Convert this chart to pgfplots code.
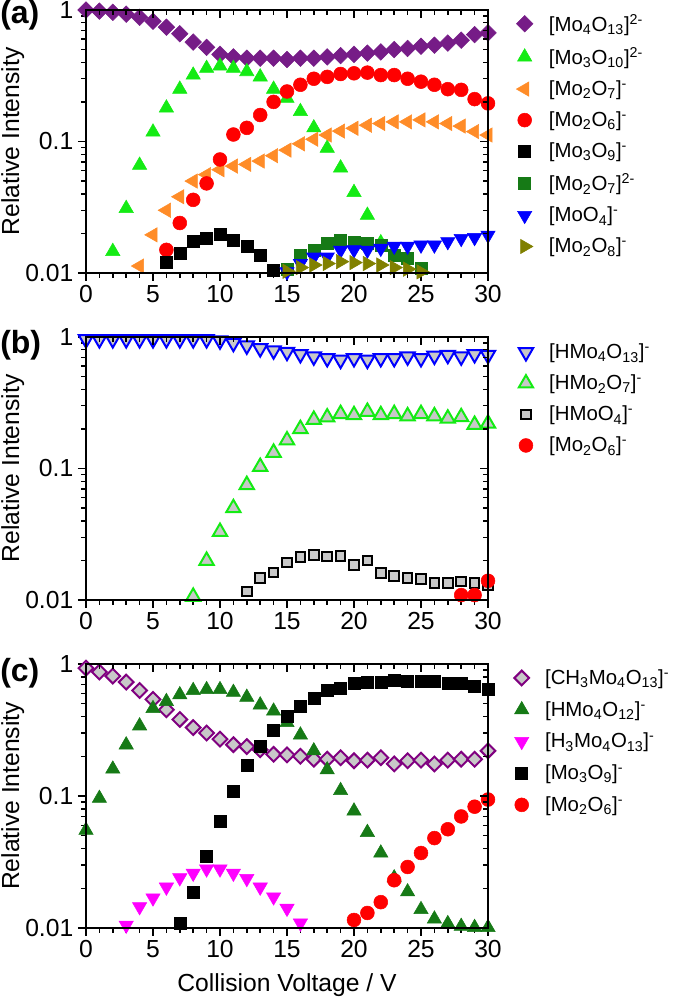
\documentclass[border=0pt]{standalone}
\usepackage{pgfplots}
\pgfplotsset{compat=1.18}
\usepackage{fontspec}
\setmainfont{Liberation Sans}
\definecolor{cPurple}{RGB}{118,28,135}
\definecolor{cLime}{RGB}{20,235,20}
\definecolor{cOrange}{RGB}{255,140,40}
\definecolor{cRed}{RGB}{255,0,0}
\definecolor{cDkGreen}{RGB}{22,122,22}
\definecolor{cBlue}{RGB}{0,0,255}
\definecolor{cOlive}{RGB}{128,128,0}
\definecolor{cMagenta}{RGB}{255,0,255}
\definecolor{cGray}{RGB}{200,200,200}
\definecolor{cPurpleC}{RGB}{128,0,128}
\newcommand{\sub}[1]{\textsubscript{#1}}
\newcommand{\sups}[1]{\textsuperscript{#1}}
\begin{document}
\begin{tikzpicture}
\useasboundingbox (0,0) rectangle (504pt,750pt);
% ---------------- (a)
\begin{axis}[at={(64.5pt,545.25pt)}, anchor=south west,
  scale only axis, width=301.5pt, height=197.25pt,
  ymode=log, xmin=0, xmax=30, ymin=0.01, ymax=1,
  xtick={0,5,...,30}, minor x tick num=4,
  ytick={0.01,0.1,1}, yticklabels={0.01,0.1,1},
  minor ytick={0.02,0.03,0.04,0.05,0.06,0.07,0.08,0.09,0.2,0.3,0.4,0.5,0.6,0.7,0.8,0.9},
  xticklabels={0,5,10,15,20,25,30},
  axis line style={line width=1.3pt},
  major tick style={black, line width=1.1pt}, minor tick style={black, line width=1.1pt},
  major tick length=6pt, minor tick length=3.5pt,
  tick align=outside, xtick pos=left, ytick pos=left,
  tick label style={font=\fontsize{18.5}{20}\selectfont},
  ylabel={Relative Intensity},
  ylabel style={at={(axis description cs:-0.182,0.5)}, anchor=center, font=\fontsize{18.5}{20}\selectfont},
  legend cell align=left,
  legend style={draw=none, fill=none, row sep=6.7pt, font=\fontsize{15.3}{17}\selectfont,
    /tikz/every odd column/.append style={column sep=10pt},
    at={(1.06,1.005)}, anchor=north west}]
\addplot[only marks, mark=square*, mark size=4.4pt, mark options={rotate=45, fill=cPurple, draw=cPurple}] coordinates {
(0,1.0)(1,0.98)(2,0.96)(3,0.93)(4,0.88)(5,0.82)(6,0.74)(7,0.66)(8,0.57)(9,0.52)(10,0.46)(11,0.44)(12,0.43)(13,0.43)(14,0.43)(15,0.42)(16,0.43)(17,0.43)(18,0.44)(19,0.45)(20,0.46)(21,0.47)(22,0.48)(23,0.50)(24,0.51)(25,0.53)(26,0.54)(27,0.56)(28,0.59)(29,0.65)(30,0.67)};
\addlegendentry{[Mo\sub{4}O\sub{13}]\sups{2-}}
\addplot[only marks, mark=triangle*, mark size=6.2pt, mark options={fill=cLime, draw=cLime}] coordinates {
(2,0.0146)(3,0.031)(4,0.066)(5,0.118)(6,0.18)(7,0.25)(8,0.32)(9,0.36)(10,0.375)(11,0.36)(12,0.34)(13,0.31)(14,0.25)(15,0.213)(16,0.169)(17,0.127)(18,0.089)(19,0.063)(20,0.041)(21,0.0275)(22,0.017)};
\addlegendentry{[Mo\sub{3}O\sub{10}]\sups{2-}}
\addplot[only marks, mark=triangle*, mark size=6.2pt, mark options={rotate=90, fill=cOrange, draw=cOrange}] coordinates {
(4,0.0113)(5,0.0195)(6,0.030)(7,0.038)(8,0.050)(9,0.056)(10,0.061)(11,0.065)(12,0.067)(13,0.071)(14,0.078)(15,0.086)(16,0.096)(17,0.104)(18,0.112)(19,0.12)(20,0.126)(21,0.133)(22,0.137)(23,0.141)(24,0.141)(25,0.146)(26,0.141)(27,0.137)(28,0.131)(29,0.119)(30,0.112)};
\addlegendentry{[Mo\sub{2}O\sub{7}]\sups{-}}
\addplot[only marks, mark=*, mark size=5.2pt, mark options={fill=cRed, draw=cRed}] coordinates {
(6,0.015)(7,0.024)(8,0.036)(9,0.048)(10,0.073)(11,0.113)(12,0.127)(13,0.159)(14,0.20)(15,0.24)(16,0.27)(17,0.30)(18,0.31)(19,0.326)(20,0.33)(21,0.334)(22,0.32)(23,0.32)(24,0.30)(25,0.285)(26,0.27)(27,0.25)(28,0.247)(29,0.21)(30,0.195)};
\addlegendentry{[Mo\sub{2}O\sub{6}]\sups{-}}
\addplot[only marks, mark=square*, mark size=4.5pt, mark options={fill=black, draw=black}] coordinates {
(6,0.012)(7,0.0141)(8,0.0173)(9,0.0183)(10,0.0198)(11,0.0178)(12,0.016)(13,0.0137)(14,0.0104)};
\addlegendentry{[Mo\sub{3}O\sub{9}]\sups{-}}
\addplot[only marks, mark=square*, mark size=4.5pt, mark options={fill=cDkGreen, draw=cDkGreen}] coordinates {
(15,0.0106)(16,0.0137)(17,0.0148)(18,0.0168)(19,0.0178)(20,0.017)(21,0.0167)(22,0.0163)(23,0.0137)(24,0.0129)(25,0.0108)};
\addlegendentry{[Mo\sub{2}O\sub{7}]\sups{2-}}
\addplot[only marks, mark=triangle*, mark size=6.2pt, mark options={rotate=180, fill=cBlue, draw=cBlue}] coordinates {
(15,0.0102)(16,0.0118)(17,0.0132)(18,0.0132)(19,0.0149)(20,0.015)(21,0.0149)(22,0.0154)(23,0.016)(24,0.016)(25,0.0163)(26,0.0163)(27,0.0173)(28,0.0183)(29,0.0186)(30,0.0194)};
\addlegendentry{[MoO\sub{4}]\sups{-}}
\addplot[only marks, mark=triangle*, mark size=6.2pt, mark options={rotate=-90, fill=cOlive, draw=cOlive}] coordinates {
(15,0.0103)(16,0.011)(17,0.0115)(18,0.0118)(19,0.0122)(20,0.012)(21,0.0118)(22,0.0115)(23,0.011)(24,0.0107)(25,0.0102)(26,0.0099)};
\addlegendentry{[Mo\sub{2}O\sub{8}]\sups{-}}
\end{axis}
\begin{axis}[at={(64.5pt,545.25pt)}, anchor=south west,
  scale only axis, width=301.5pt, height=197.25pt,
  ymode=log, xmin=0, xmax=30, ymin=0.01, ymax=1,
  xtick={0,5,...,30}, minor x tick num=4, ytick={0.01,0.1,1},
  minor ytick={0.02,0.03,0.04,0.05,0.06,0.07,0.08,0.09,0.2,0.3,0.4,0.5,0.6,0.7,0.8,0.9},
  xticklabels={}, yticklabels={},
  axis line style={line width=1.3pt},
  major tick style={black, line width=1.1pt}, minor tick style={black, line width=1.1pt},
  major tick length=6pt, minor tick length=3.5pt,
  tick align=inside, xtick pos=right, ytick pos=right]
\end{axis}
% ---------------- (b)
\begin{axis}[at={(64.5pt,300pt)}, anchor=south west,
  scale only axis, width=301.5pt, height=197.25pt,
  ymode=log, xmin=0, xmax=30, ymin=0.01, ymax=1,
  xtick={0,5,...,30}, minor x tick num=4,
  ytick={0.01,0.1,1}, yticklabels={0.01,0.1,1},
  minor ytick={0.02,0.03,0.04,0.05,0.06,0.07,0.08,0.09,0.2,0.3,0.4,0.5,0.6,0.7,0.8,0.9},
  xticklabels={0,5,10,15,20,25,30},
  axis line style={line width=1.3pt},
  major tick style={black, line width=1.1pt}, minor tick style={black, line width=1.1pt},
  major tick length=6pt, minor tick length=3.5pt,
  tick align=outside, xtick pos=left, ytick pos=left,
  tick label style={font=\fontsize{18.5}{20}\selectfont},
  ylabel={Relative Intensity},
  ylabel style={at={(axis description cs:-0.182,0.5)}, anchor=center, font=\fontsize{18.5}{20}\selectfont},
  legend cell align=left,
  legend style={draw=none, fill=none, row sep=6.7pt, font=\fontsize{15.3}{17}\selectfont,
    /tikz/every odd column/.append style={column sep=10pt},
    at={(1.066,0.995)}, anchor=north west}]
\addplot[only marks, mark=triangle*, mark size=6.2pt, mark options={rotate=180, fill=cGray, draw=cBlue, line width=1.5pt}] coordinates {
(0,0.96)(1,0.96)(2,0.96)(3,0.96)(4,0.96)(5,0.96)(6,0.96)(7,0.96)(8,0.96)(9,0.96)(10,0.94)(11,0.9)(12,0.86)(13,0.82)(14,0.79)(15,0.77)(16,0.74)(17,0.71)(18,0.69)(19,0.67)(20,0.69)(21,0.67)(22,0.69)(23,0.69)(24,0.71)(25,0.69)(26,0.72)(27,0.73)(28,0.71)(29,0.74)(30,0.73)};
\addlegendentry{[HMo\sub{4}O\sub{13}]\sups{-}}
\addplot[only marks, mark=triangle*, mark size=6.2pt, mark options={fill=cGray, draw=cLime, line width=1.5pt}] coordinates {
(8,0.0106)(9,0.0199)(10,0.033)(11,0.05)(12,0.075)(13,0.103)(14,0.132)(15,0.164)(16,0.2)(17,0.235)(18,0.245)(19,0.26)(20,0.255)(21,0.27)(22,0.255)(23,0.26)(24,0.25)(25,0.26)(26,0.25)(27,0.24)(28,0.246)(29,0.215)(30,0.22)};
\addlegendentry{[HMo\sub{2}O\sub{7}]\sups{-}}
\addplot[only marks, mark=square*, mark size=3.6pt, mark options={fill=cGray, draw=black, line width=1.5pt}] coordinates {
(12,0.0116)(13,0.0147)(14,0.0162)(15,0.0193)(16,0.0213)(17,0.0219)(18,0.0214)(19,0.0215)(20,0.0185)(21,0.02)(22,0.016)(23,0.0152)(24,0.0147)(25,0.0145)(26,0.0135)(27,0.0135)(28,0.0138)(29,0.0135)(30,0.013)};
\addlegendentry{[HMoO\sub{4}]\sups{-}}
\addplot[only marks, mark=*, mark size=5.2pt, mark options={fill=cRed, draw=cRed}] coordinates {
(27,0.0097)(28,0.0109)(29,0.0109)(30,0.014)};
\addlegendentry{[Mo\sub{2}O\sub{6}]\sups{-}}
\end{axis}
\begin{axis}[at={(64.5pt,300pt)}, anchor=south west,
  scale only axis, width=301.5pt, height=197.25pt,
  ymode=log, xmin=0, xmax=30, ymin=0.01, ymax=1,
  xtick={0,5,...,30}, minor x tick num=4, ytick={0.01,0.1,1},
  minor ytick={0.02,0.03,0.04,0.05,0.06,0.07,0.08,0.09,0.2,0.3,0.4,0.5,0.6,0.7,0.8,0.9},
  xticklabels={}, yticklabels={},
  axis line style={line width=1.3pt},
  major tick style={black, line width=1.1pt}, minor tick style={black, line width=1.1pt},
  major tick length=6pt, minor tick length=3.5pt,
  tick align=inside, xtick pos=right, ytick pos=right]
\end{axis}
% ---------------- (c)
\begin{axis}[at={(64.5pt,54pt)}, anchor=south west,
  scale only axis, width=301.5pt, height=198pt,
  ymode=log, xmin=0, xmax=30, ymin=0.01, ymax=1,
  xtick={0,5,...,30}, minor x tick num=4,
  ytick={0.01,0.1,1}, yticklabels={0.01,0.1,1},
  minor ytick={0.02,0.03,0.04,0.05,0.06,0.07,0.08,0.09,0.2,0.3,0.4,0.5,0.6,0.7,0.8,0.9},
  xticklabels={0,5,10,15,20,25,30},
  axis line style={line width=1.3pt},
  major tick style={black, line width=1.1pt}, minor tick style={black, line width=1.1pt},
  major tick length=6pt, minor tick length=3.5pt,
  tick align=outside, xtick pos=left, ytick pos=left,
  tick label style={font=\fontsize{18.5}{20}\selectfont},
  ylabel={Relative Intensity},
  ylabel style={at={(axis description cs:-0.182,0.5)}, anchor=center, font=\fontsize{18.5}{20}\selectfont},
  xlabel={Collision Voltage / V},
  xlabel style={font=\fontsize{18.5}{20}\selectfont, yshift=-5pt},
  legend cell align=left,
  legend style={draw=none, fill=none, row sep=7.2pt, font=\fontsize{15.3}{17}\selectfont,
    /tikz/every odd column/.append style={column sep=10pt},
    at={(1.055,1.0)}, anchor=north west}]
\addplot[only marks, mark=square*, mark size=3.9pt, mark options={rotate=45, fill=cGray, draw=cPurpleC, line width=1.5pt}] coordinates {
(0,0.93)(1,0.87)(2,0.81)(3,0.73)(4,0.63)(5,0.54)(6,0.45)(7,0.38)(8,0.33)(9,0.30)(10,0.27)(11,0.245)(12,0.237)(13,0.224)(14,0.207)(15,0.205)(16,0.2)(17,0.19)(18,0.19)(19,0.195)(20,0.185)(21,0.187)(22,0.195)(23,0.175)(24,0.185)(25,0.187)(26,0.175)(27,0.187)(28,0.19)(29,0.19)(30,0.22)};
\addlegendentry{[CH\sub{3}Mo\sub{4}O\sub{13}]\sups{-}}
\addplot[only marks, mark=triangle*, mark size=6.2pt, mark options={fill=cDkGreen, draw=cDkGreen}] coordinates {
(0,0.055)(1,0.096)(2,0.16)(3,0.244)(4,0.34)(5,0.46)(6,0.52)(7,0.585)(8,0.63)(9,0.64)(10,0.64)(11,0.61)(12,0.56)(13,0.49)(14,0.44)(15,0.36)(16,0.29)(17,0.22)(18,0.158)(19,0.11)(20,0.077)(21,0.053)(22,0.037)(23,0.024)(24,0.0188)(25,0.0138)(26,0.0117)(27,0.0108)(28,0.0103)(29,0.0101)(30,0.0101)};
\addlegendentry{[HMo\sub{4}O\sub{12}]\sups{-}}
\addplot[only marks, mark=triangle*, mark size=6.2pt, mark options={rotate=180, fill=cMagenta, draw=cMagenta}] coordinates {
(3,0.0105)(4,0.0145)(5,0.0169)(6,0.0204)(7,0.024)(8,0.026)(9,0.028)(10,0.028)(11,0.026)(12,0.0237)(13,0.0204)(14,0.0172)(15,0.0141)(16,0.0109)};
\addlegendentry{[H\sub{3}Mo\sub{4}O\sub{13}]\sups{-}}
\addplot[only marks, mark=square*, mark size=4.5pt, mark options={fill=black, draw=black}] coordinates {
(7,0.0109)(8,0.0187)(9,0.0347)(10,0.064)(11,0.109)(12,0.172)(13,0.24)(14,0.317)(15,0.40)(16,0.48)(17,0.55)(18,0.63)(19,0.66)(20,0.71)(21,0.73)(22,0.73)(23,0.75)(24,0.735)(25,0.735)(26,0.735)(27,0.72)(28,0.71)(29,0.68)(30,0.645)};
\addlegendentry{[Mo\sub{3}O\sub{9}]\sups{-}}
\addplot[only marks, mark=*, mark size=5.2pt, mark options={fill=cRed, draw=cRed}] coordinates {
(20,0.0115)(21,0.013)(22,0.0157)(23,0.023)(24,0.029)(25,0.037)(26,0.048)(27,0.056)(28,0.07)(29,0.083)(30,0.094)};
\addlegendentry{[Mo\sub{2}O\sub{6}]\sups{-}}
\end{axis}
\begin{axis}[at={(64.5pt,54pt)}, anchor=south west,
  scale only axis, width=301.5pt, height=198pt,
  ymode=log, xmin=0, xmax=30, ymin=0.01, ymax=1,
  xtick={0,5,...,30}, minor x tick num=4, ytick={0.01,0.1,1},
  minor ytick={0.02,0.03,0.04,0.05,0.06,0.07,0.08,0.09,0.2,0.3,0.4,0.5,0.6,0.7,0.8,0.9},
  xticklabels={}, yticklabels={},
  axis line style={line width=1.3pt},
  major tick style={black, line width=1.1pt}, minor tick style={black, line width=1.1pt},
  major tick length=6pt, minor tick length=3.5pt,
  tick align=inside, xtick pos=right, ytick pos=right]
\end{axis}
% panel labels
\node[anchor=north west, inner sep=0pt, font=\bfseries\fontsize{24}{26}\selectfont] at (0pt,750pt) {(a)};
\node[anchor=north west, inner sep=0pt, font=\bfseries\fontsize{24}{26}\selectfont] at (0pt,502.5pt) {(b)};
\node[anchor=north west, inner sep=0pt, font=\bfseries\fontsize{24}{26}\selectfont] at (0pt,256.5pt) {(c)};
\end{tikzpicture}
\end{document}
